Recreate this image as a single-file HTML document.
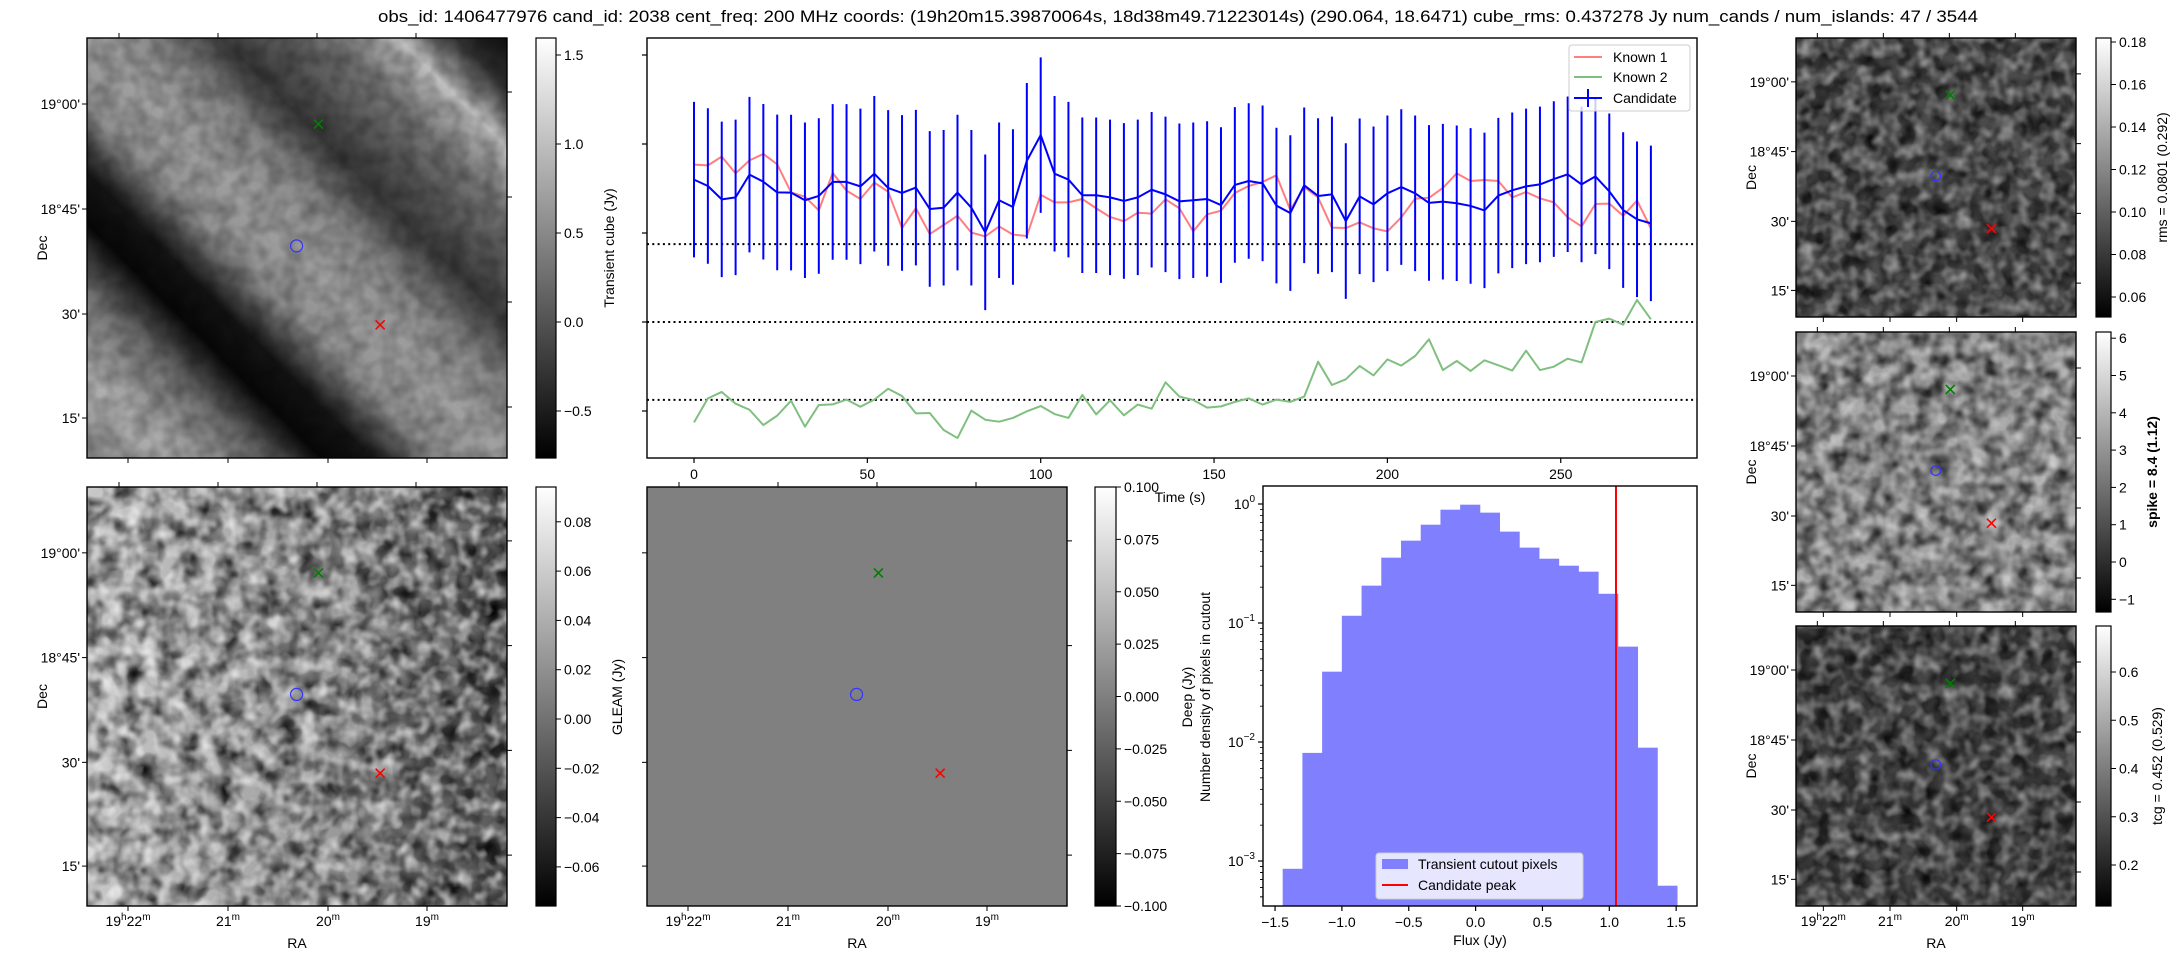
<!DOCTYPE html>
<html><head><meta charset="utf-8"><style>
html,body{margin:0;padding:0;background:#fff;}
svg{display:block;font-family:"Liberation Sans","DejaVu Sans",sans-serif;}
text{fill:#000;}
</style></head><body>
<svg id="fig" xmlns="http://www.w3.org/2000/svg" width="2179" height="960" viewBox="0 0 2179 960">
<defs>
<linearGradient id="cbar" x1="0" y1="1" x2="0" y2="0"><stop offset="0" stop-color="#000"/><stop offset="1" stop-color="#fff"/></linearGradient>
<linearGradient id="stripes" x1="0" y1="1" x2="1" y2="0">
<stop offset="0" stop-color="#8a8a8a"/><stop offset="0.1" stop-color="#b0b0b0"/><stop offset="0.2" stop-color="#707070"/><stop offset="0.28" stop-color="#080808"/><stop offset="0.34" stop-color="#151515"/><stop offset="0.42" stop-color="#909090"/><stop offset="0.5" stop-color="#a0a0a0"/><stop offset="0.58" stop-color="#888"/><stop offset="0.66" stop-color="#3a3a3a"/><stop offset="0.72" stop-color="#555"/><stop offset="0.8" stop-color="#7a7a7a"/><stop offset="0.87" stop-color="#c0c0c0"/><stop offset="0.94" stop-color="#303030"/><stop offset="1" stop-color="#101010"/>
</linearGradient>
<linearGradient id="blgrad" x1="0" y1="0" x2="1" y2="0"><stop offset="0" stop-color="#c8c8c8"/><stop offset="0.6" stop-color="#999"/><stop offset="1" stop-color="#555"/></linearGradient>
<filter id="noiseA" x="0" y="0" width="1" height="1"><feTurbulence type="fractalNoise" baseFrequency="0.05" numOctaves="2" seed="3"/><feColorMatrix type="matrix" values="0 0 0 0 0  0 0 0 0 0  0 0 0 0 0  0 0 0 -1.6 1.1"/></filter>
<filter id="noiseB" x="0" y="0" width="1" height="1"><feTurbulence type="fractalNoise" baseFrequency="0.07" numOctaves="2" seed="7"/><feColorMatrix type="matrix" values="0 0 0 0 1  0 0 0 0 1  0 0 0 0 1  0 0 0 1.4 -0.55"/></filter>
<filter id="noiseC" x="0" y="0" width="1" height="1"><feTurbulence type="fractalNoise" baseFrequency="0.06" numOctaves="2" seed="11"/><feColorMatrix type="matrix" values="0 0 0 0 0  0 0 0 0 0  0 0 0 0 0  0 0 0 -1.5 1.05"/></filter>
</defs>
<text x="1178" y="22" font-size="16.5" text-anchor="middle" textLength="1600" lengthAdjust="spacingAndGlyphs">obs_id: 1406477976 cand_id: 2038 cent_freq: 200 MHz coords: (19h20m15.39870064s, 18d38m49.71223014s) (290.064, 18.6471) cube_rms: 0.437278 Jy num_cands / num_islands: 47 / 3544</text>
<g id="root"></g>
</svg>
<script>
// Light curve data (Jy), time step 4 s
const lcTimes = [];
for (let i = 0; i < 70; i++) lcTimes.push(i * 4);
const candidateFlux = [0.80,0.764,0.689,0.70,0.828,0.788,0.728,0.727,0.684,0.708,0.787,0.787,0.762,0.833,0.753,0.725,0.755,0.635,0.642,0.727,0.642,0.504,0.684,0.646,0.906,1.05,0.833,0.80,0.712,0.712,0.70,0.68,0.70,0.743,0.717,0.678,0.684,0.691,0.657,0.77,0.792,0.779,0.654,0.612,0.768,0.708,0.717,0.567,0.706,0.661,0.723,0.758,0.723,0.669,0.676,0.667,0.652,0.627,0.71,0.74,0.762,0.773,0.803,0.83,0.773,0.818,0.734,0.629,0.577,0.554];
const known1Flux = [0.884,0.88,0.929,0.835,0.908,0.944,0.886,0.728,0.704,0.627,0.837,0.738,0.691,0.783,0.732,0.528,0.639,0.494,0.545,0.597,0.502,0.481,0.537,0.491,0.483,0.715,0.672,0.672,0.691,0.639,0.59,0.566,0.614,0.609,0.689,0.639,0.509,0.605,0.625,0.725,0.764,0.787,0.824,0.629,0.758,0.70,0.53,0.528,0.56,0.526,0.509,0.588,0.693,0.698,0.753,0.835,0.792,0.798,0.792,0.70,0.73,0.695,0.672,0.588,0.537,0.663,0.665,0.597,0.682,0.526];
const known2Flux = [-0.564,-0.429,-0.393,-0.459,-0.493,-0.579,-0.526,-0.442,-0.588,-0.466,-0.463,-0.436,-0.476,-0.436,-0.375,-0.416,-0.513,-0.511,-0.607,-0.652,-0.498,-0.549,-0.56,-0.539,-0.502,-0.472,-0.517,-0.539,-0.41,-0.519,-0.44,-0.524,-0.464,-0.487,-0.339,-0.419,-0.438,-0.481,-0.474,-0.449,-0.429,-0.464,-0.436,-0.449,-0.419,-0.223,-0.354,-0.322,-0.247,-0.3,-0.21,-0.245,-0.191,-0.097,-0.27,-0.219,-0.275,-0.215,-0.243,-0.273,-0.161,-0.27,-0.251,-0.206,-0.227,0,0.019,-0.015,0.124,0.015];
const candidateErr = 0.437;
const cubeRms = 0.437278;
const lcXTicks = [0,50,100,150,200,250];
const lcYTicks = [-0.5,0,0.5,1.0,1.5];

// Histogram data
const histEdgeStart = -1.443;
const histEdgeEnd = 1.507;
const histDensity = [0.00086,0.0081,0.039,0.115,0.206,0.354,0.492,0.67,0.896,0.987,0.846,0.586,0.43,0.347,0.303,0.27,0.176,0.0633,0.00896,0.00062];
const candidatePeak = 1.05;
const histXTicks = [-1.5,-1.0,-0.5,0.0,0.5,1.0,1.5];
const histXTickLabels = ["\u22121.5","\u22121.0","\u22120.5","0.0","0.5","1.0","1.5"];
const histYDecades = [0,-1,-2,-3];

const NS = "http://www.w3.org/2000/svg";
const root = document.getElementById('root');
function el(tag, attrs, parent, txt) {
  const e = document.createElementNS(NS, tag);
  for (const k in attrs) e.setAttribute(k, attrs[k]);
  if (txt !== undefined) e.textContent = txt;
  (parent || root).appendChild(e);
  return e;
}
function grp(name) {
  const g = el('g', {});
  
  
  return g;
}

// ---------- Light curve ----------
const LC = {l:647, r:1697, t:38, b:458};
const lx = t => 694 + t * 3.467;
const ly = v => 322 - v * 178;
const lcG = grp('light-curve-panel');
[cubeRms, 0, -cubeRms].forEach(v => {
  const d = el('line', {x1:LC.l, x2:LC.r, y1:ly(v), y2:ly(v), stroke:'#000', 'stroke-width':2, 'stroke-dasharray':'2,3.3'}, lcG);
  
  
});
function series(vals, color, name) {
  const p = el('polyline', {points: vals.map((v,i)=>lx(lcTimes[i])+','+ly(v)).join(' '), fill:'none', stroke:color, 'stroke-width':2, 'stroke-linejoin':'round'}, lcG);
  
  
}
series(known1Flux, '#ff7f7f', 'known-1-line');
series(known2Flux, '#7fbf7f', 'known-2-line');
const errG = el('g', {}, lcG);


candidateFlux.forEach((v,i) => {
  el('line', {x1:lx(lcTimes[i]), x2:lx(lcTimes[i]), y1:ly(v+candidateErr), y2:ly(v-candidateErr), stroke:'#0000ff', 'stroke-width':2}, errG);
});
series(candidateFlux, '#0000ff', 'candidate-line');
el('rect', {x:LC.l, y:LC.t, width:LC.r-LC.l, height:LC.b-LC.t, fill:'none', stroke:'#000', 'stroke-width':1.4}, lcG);
lcYTicks.forEach(v => el('line', {x1:LC.l-5, x2:LC.l, y1:ly(v), y2:ly(v), stroke:'#000', 'stroke-width':1.2}, lcG));
lcXTicks.forEach(t => {
  el('line', {x1:lx(t), x2:lx(t), y1:LC.b, y2:LC.b+5, stroke:'#000', 'stroke-width':1.2}, lcG);
  const tl = el('text', {x:lx(t), y:479, 'font-size':14, 'text-anchor':'middle'}, lcG, String(t));
  
  
});
const tlab = el('text', {x:1180, y:502, 'font-size':14, 'text-anchor':'middle'}, lcG, 'Time (s)');


const lg = el('g', {}, lcG);


el('rect', {x:1569, y:45, width:121, height:66, rx:3, fill:'#fff', 'fill-opacity':0.8, stroke:'#ccc'}, lg);
[['Known 1','#ff7f7f',57],['Known 2','#7fbf7f',77],['Candidate','#0000ff',98]].forEach(([n,c,y]) => {
  el('line', {x1:1574, x2:1602, y1:y, y2:y, stroke:c, 'stroke-width':2}, lg);
  if (n==='Candidate') el('line', {x1:1588, x2:1588, y1:y-9, y2:y+9, stroke:c, 'stroke-width':2}, lg);
  const t = el('text', {x:1613, y:y+5, 'font-size':14}, lg, n);
  
  
});

// ---------- Histogram ----------
const H = {l:1263, r:1697, t:486, b:906};
const hx = f => 1475.6 + f * 133.7;
const hy = d => 504 - Math.log10(d) * 119;
const hG = grp('histogram-panel');
const hw = (histEdgeEnd - histEdgeStart) / histDensity.length;
histDensity.forEach((d,i) => {
  const x0 = hx(histEdgeStart + i*hw), x1 = hx(histEdgeStart + (i+1)*hw);
  const b = el('rect', {x:x0, y:hy(d), width:x1-x0+0.4, height:H.b-hy(d), fill:'#8080ff'}, hG);
  
  
});
const pk = el('line', {x1:hx(candidatePeak), x2:hx(candidatePeak), y1:H.t, y2:H.b, stroke:'#ff0000', 'stroke-width':2}, hG);


el('rect', {x:H.l, y:H.t, width:H.r-H.l, height:H.b-H.t, fill:'none', stroke:'#000', 'stroke-width':1.4}, hG);
histXTicks.forEach((f,i) => {
  el('line', {x1:hx(f), x2:hx(f), y1:H.b, y2:H.b+5, stroke:'#000', 'stroke-width':1.2}, hG);
  el('text', {x:hx(f), y:927, 'font-size':14, 'text-anchor':'middle'}, hG, histXTickLabels[i]);
});
histYDecades.forEach(p => {
  const y = hy(Math.pow(10,p));
  el('line', {x1:H.l-5, x2:H.l, y1:y, y2:y, stroke:'#000', 'stroke-width':1.2}, hG);
  const t = el('text', {x:H.l-8, y:y+5, 'font-size':14, 'text-anchor':'end'}, hG, '10');
  el('tspan', {dy:-7, 'font-size':10}, t, p===0?'0':'\u2212'+(-p));
  for (let m=2; m<10; m++) {
    const ym = hy(Math.pow(10,p-1)*m);
    if (ym < H.b && ym > H.t) el('line', {x1:H.l-3, x2:H.l, y1:ym, y2:ym, stroke:'#000', 'stroke-width':0.8}, hG);
  }
});
[2,3,4,5,6,7,8,9].forEach(m => {const ym=hy(m*1e-4); if(ym<H.b) el('line',{x1:H.l-3,x2:H.l,y1:ym,y2:ym,stroke:'#000','stroke-width':0.8},hG);});
el('text', {x:1480, y:945, 'font-size':14, 'text-anchor':'middle'}, hG, 'Flux (Jy)');
el('text', {x:0, y:0, 'font-size':14, 'text-anchor':'middle', transform:'translate(1192,697) rotate(-90)'}, hG, 'Deep (Jy)');
el('text', {x:0, y:0, 'font-size':14, 'text-anchor':'middle', transform:'translate(1210,697) rotate(-90)'}, hG, 'Number density of pixels in cutout');
const hl = el('g', {}, hG);


el('rect', {x:1376, y:853, width:207, height:46, rx:3, fill:'#fff', 'fill-opacity':0.8, stroke:'#ccc'}, hl);
el('rect', {x:1382, y:859, width:26, height:10, fill:'#8080ff'}, hl);
el('text', {x:1418, y:869, 'font-size':14}, hl, 'Transient cutout pixels');
el('line', {x1:1382, x2:1408, y1:885, y2:885, stroke:'#ff0000', 'stroke-width':2}, hl);
el('text', {x:1418, y:890, 'font-size':14}, hl, 'Candidate peak');

// ---------- Image panels ----------
function raLabel(parent, x, y, main, sup, extra) {
  const t = el('text', {x:x, y:y, 'font-size':14, 'text-anchor':'middle'}, parent);
  if (extra) { el('tspan', {}, t, '19'); el('tspan', {dy:-6, 'font-size':10}, t, 'h'); el('tspan', {dy:6}, t, '22'); el('tspan', {dy:-6, 'font-size':10}, t, 'm'); }
  else { el('tspan', {}, t, main); el('tspan', {dy:-6, 'font-size':10}, t, 'm'); }
}
function imagePanel(name, x, y, w, h, fillFn, opts) {
  const g = grp(name);
  fillFn(g, x, y, w, h);
  el('rect', {x:x, y:y, width:w, height:h, fill:'none', stroke:'#000', 'stroke-width':1.4}, g);
  const s = w / 420;
  const decOff = [66, 171, 276, 380].map(v=>v*h/420);
  const rightOff = [54, 159, 264, 369].map(v=>v*h/420);
  const raB = [41, 141, 241, 340].map(v=>v*s);
  const raT = [32, 131, 230, 329].map(v=>v*s);
  decOff.forEach(d => el('line', {x1:x-5, x2:x, y1:y+d, y2:y+d, stroke:'#000'}, g));
  rightOff.forEach(d => el('line', {x1:x+w, x2:x+w+5, y1:y+d, y2:y+d, stroke:'#000'}, g));
  raB.forEach(d => el('line', {x1:x+d, x2:x+d, y1:y+h, y2:y+h+5, stroke:'#000'}, g));
  raT.forEach(d => el('line', {x1:x+d, x2:x+d, y1:y-5, y2:y, stroke:'#000'}, g));
  if (opts.dec) {
    ["19\u00b000'","18\u00b045'","30'","15'"].forEach((l,i) => el('text', {x:x-7, y:y+decOff[i]+5, 'font-size':14, 'text-anchor':'end'}, g, l));
    el('text', {x:0, y:0, 'font-size':14, 'text-anchor':'middle', transform:`translate(${x-40},${y+h/2}) rotate(-90)`}, g, 'Dec');
  }
  if (opts.ra) {
    raLabel(g, x+raB[0], y+h+20, '', '', true);
    raLabel(g, x+raB[1], y+h+20, '21');
    raLabel(g, x+raB[2], y+h+20, '20');
    raLabel(g, x+raB[3], y+h+20, '19');
    el('text', {x:x+w/2, y:y+h+42, 'font-size':14, 'text-anchor':'middle'}, g, 'RA');
  }
  const mk = el('g', {}, g);
  
  
  const cross = (cx, cy, c) => { const r=4.5; el('path', {d:`M${cx-r},${cy-r}L${cx+r},${cy+r}M${cx-r},${cy+r}L${cx+r},${cy-r}`, stroke:c, 'stroke-width':1.6, fill:'none'}, mk); };
  cross(x + 0.551*w, y + 0.205*h, '#008000');
  cross(x + 0.698*w, y + 0.683*h, '#ff0000');
  el('circle', {cx:x + 0.499*w, cy:y + 0.495*h, r:6*Math.max(s,0.8), fill:'none', stroke:'#3333ff', 'stroke-width':1.2}, mk);
  return g;
}
function colorbar(name, x, y, w, h, ticks, toY, label, lx2, bold) {
  const g = grp(name);
  el('rect', {x:x, y:y, width:w, height:h, fill:'url(#cbar)', stroke:'#000', 'stroke-width':1.2}, g);
  ticks.forEach(([v,l]) => {
    const ty = toY(v);
    el('line', {x1:x+w, x2:x+w+5, y1:ty, y2:ty, stroke:'#000'}, g);
    el('text', {x:x+w+8, y:ty+5, 'font-size':14}, g, l);
  });
  if (label) el('text', {x:0, y:0, 'font-size':14, 'text-anchor':'middle', 'font-weight':bold?'bold':'normal', transform:`translate(${lx2},${y+h/2}) rotate(-90)`}, g, label);
}
const stripesFill = (g,x,y,w,h) => { el('rect', {x:x,y:y,width:w,height:h,fill:'url(#stripes)'}, g); el('rect', {x:x,y:y,width:w,height:h,filter:'url(#noiseC)', opacity:0.35}, g); };
const blotchFill = (g,x,y,w,h) => { el('rect', {x:x,y:y,width:w,height:h,fill:'url(#blgrad)'}, g); el('rect', {x:x,y:y,width:w,height:h,filter:'url(#noiseA)'}, g); el('rect', {x:x,y:y,width:w,height:h,filter:'url(#noiseB)'}, g); };
const flatFill = (g,x,y,w,h) => el('rect', {x:x,y:y,width:w,height:h,fill:'#808080'}, g);
const darkNoise = base => (g,x,y,w,h) => { el('rect', {x:x,y:y,width:w,height:h,fill:base}, g); el('rect', {x:x,y:y,width:w,height:h,filter:'url(#noiseC)'}, g); el('rect', {x:x,y:y,width:w,height:h,filter:'url(#noiseB)', opacity:0.7}, g); };

imagePanel('transient-cube-image', 87, 38, 420, 420, stripesFill, {dec:true});
colorbar('transient-cube-colorbar', 536, 38, 20, 420, [[1.5,'1.5'],[1.0,'1.0'],[0.5,'0.5'],[0,'0.0'],[-0.5,'\u22120.5']], v=>322-v*178, 'Transient cube (Jy)', 614);
imagePanel('deep-image', 87, 487, 420, 419, blotchFill, {dec:true, ra:true});
colorbar('deep-colorbar', 536, 487, 20, 419, [[0.08,'0.08'],[0.06,'0.06'],[0.04,'0.04'],[0.02,'0.02'],[0,'0.00'],[-0.02,'\u22120.02'],[-0.04,'\u22120.04'],[-0.06,'\u22120.06']], v=>719-v*2465, null);
imagePanel('gleam-image', 647, 487, 420, 419, flatFill, {ra:true});
colorbar('gleam-colorbar', 1095, 487, 21, 419, [[0.1,'0.100'],[0.075,'0.075'],[0.05,'0.050'],[0.025,'0.025'],[0,'0.000'],[-0.025,'\u22120.025'],[-0.05,'\u22120.050'],[-0.075,'\u22120.075'],[-0.1,'\u22120.100']], v=>696.5-v*2095, null);
el('text', {x:0, y:0, 'font-size':14, 'text-anchor':'middle', transform:'translate(622,697) rotate(-90)'}, root, 'GLEAM (Jy)');

imagePanel('rms-image', 1796, 38, 280, 279, darkNoise('#4a4a4a'), {dec:true});
colorbar('rms-colorbar', 2096, 38, 15, 279, [[0.18,'0.18'],[0.16,'0.16'],[0.14,'0.14'],[0.12,'0.12'],[0.10,'0.10'],[0.08,'0.08'],[0.06,'0.06']], v=>42+(0.18-v)*2125, 'rms = 0.0801 (0.292)', 2167);
imagePanel('spike-image', 1796, 332, 280, 280, darkNoise('#a0a0a0'), {dec:true});
colorbar('spike-colorbar', 2096, 332, 15, 280, [[6,'6'],[5,'5'],[4,'4'],[3,'3'],[2,'2'],[1,'1'],[0,'0'],[-1,'\u22121']], v=>562-v*37.3, 'spike = 8.4 (1.12)', 2157, true);
imagePanel('tcg-image', 1796, 626, 280, 280, darkNoise('#444'), {dec:true, ra:true});
colorbar('tcg-colorbar', 2096, 626, 15, 280, [[0.6,'0.6'],[0.5,'0.5'],[0.4,'0.4'],[0.3,'0.3'],[0.2,'0.2']], v=>672+(0.6-v)*482.5, 'tcg = 0.452 (0.529)', 2162);
</script>
</body></html>
